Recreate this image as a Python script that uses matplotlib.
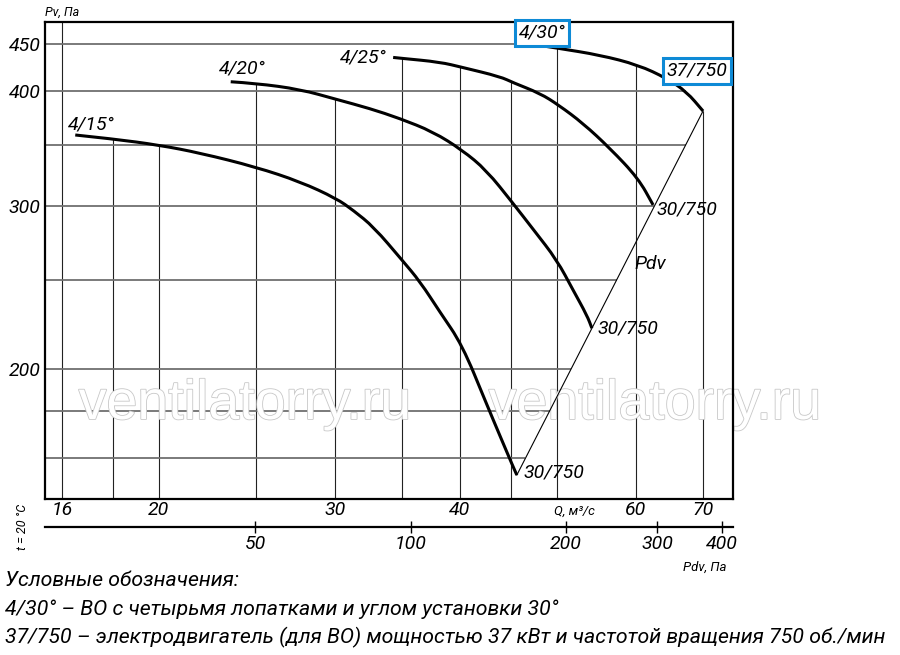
import numpy as np
import matplotlib
matplotlib.use("Agg")
import matplotlib.pyplot as plt
import matplotlib.patheffects as pe
from matplotlib import font_manager
from matplotlib.path import Path
from matplotlib.patches import PathPatch
from matplotlib.ticker import NullLocator

# fan curves: Q, m3/s -> Pv, Pa
q_15 = [16.5, 18.0, 20.0, 22.0, 25.0, 27.7, 30.1, 31.3, 32.8, 35.0, 36.5, 38.2, 40.2, 42.5, 43.9, 45.2, 45.6]
p_15 = [358.5, 355, 349.6, 342.7, 331, 319, 306, 297, 285, 262.5, 248.6, 230.5, 212.5, 183.6, 168.9, 156.8, 153.5]
q_20 = [23.6, 25.0, 27.7, 30.1, 32.5, 34.8, 37.6, 40.2, 42.5, 45.2, 47.4, 50.0, 51.9, 53.6, 54.2]
p_20 = [409.4, 407.8, 401.7, 391.8, 383, 373.7, 361.4, 345.3, 328.5, 302.3, 282.9, 262.5, 243.5, 228.5, 221.4]
q_25 = [34.3, 35.0, 38.2, 40.2, 43.9, 45.2, 48.1, 50.2, 53.1, 56.5, 60.3, 62.4]
p_25 = [435, 434, 430, 424.4, 414.6, 408.5, 397.7, 386.3, 369.1, 346.8, 321.8, 301.1]
q_30 = [47.0, 50.2, 55.2, 60.3, 64.4, 67.4, 70.0]
p_30 = [450, 445, 437.6, 426.9, 412.9, 399.3, 380.6]

curve_names = ['4/15°', '4/20°', '4/25°', '4/30°']
end_labels = ['30/750', '30/750', '30/750', '37/750']

q_grid = [16, 18, 20, 25, 30, 35, 40, 45, 50, 60, 70]
p_grid = [160, 180, 200, 250, 300, 350, 400, 450]
q_ticks = [16, 20, 30, 40, 60, 70]
p_ticks = [200, 300, 400, 450]
pdv_ticks = [50, 100, 200, 300, 400]

legend_lines = [
    'Условные обозначения:',
    '4/30° – ВО с четырьмя лопатками и углом установки 30°',
    '37/750 – электродвигатель (для ВО) мощностью 37 кВт и частотой вращения 750 об./мин',
]

styles = {}
for f in font_manager.fontManager.ttflist:
    styles.setdefault(f.name, set()).add(f.style)
main_font = next((n for n in ['Roboto', 'Liberation Sans'] if 'italic' in styles.get(n, ())), 'DejaVu Sans')

plt.rcParams['font.family'] = [main_font, 'DejaVu Sans']
plt.rcParams['font.style'] = 'italic'

W, H = 900, 655


def px(x, y):
    return x / W, 1 - y / H


def smooth_path(qs, ps):
    # quadratic pieces through the read points (drawn in log space)
    lq, lp = np.log(qs), np.log(ps)
    verts = [(qs[0], ps[0])]
    codes = [Path.MOVETO]
    for i in range(1, len(qs) - 1):
        mid = (np.exp((lq[i] + lq[i + 1]) / 2), np.exp((lp[i] + lp[i + 1]) / 2))
        verts += [(qs[i], ps[i]), mid]
        codes += [Path.CURVE3, Path.CURVE3]
    verts.append((qs[-1], ps[-1]))
    codes.append(Path.LINETO)
    return Path(verts, codes)


curves = [(q_15, p_15), (q_20, p_20), (q_25, p_25), (q_30, p_30)]
xlim = (15.39, 75.0)
ylim = (144.6, 475.2)

fig = plt.figure(figsize=(9, 6.55), dpi=100)
ax = fig.add_axes([45 / W, 156 / H, 688 / W, 477 / H])
ax.set_xscale('log')
ax.set_yscale('log')
ax.set_xlim(*xlim)
ax.set_ylim(*ylim)

# Pdv line through the curve ends
q_line = [q_15[-1], q_30[-1]]
p_line = [p_15[-1], p_30[-1]]
ax.plot(q_line, p_line, color='black', lw=0.8, zorder=3)


def top_at(q):
    tops = []
    for qs, ps in curves:
        if qs[0] * 0.99 <= q <= qs[-1] * 1.01:
            tops.append(np.exp(np.interp(np.log(q), np.log(qs), np.log(ps))))
    return max(tops) if tops else ylim[1]


def right_at(p):
    if p <= p_line[-1]:
        return np.exp(np.interp(np.log(p), np.log(p_line), np.log(q_line)))
    return np.exp(np.interp(np.log(p), np.log(p_30[::-1]), np.log(q_30[::-1])))


for q in q_grid:
    ax.vlines(q, ylim[0], top_at(q), color='#222222', lw=0.8, zorder=1)
for p in p_grid:
    ax.hlines(p, xlim[0], right_at(p), color='#707070', lw=1.3, zorder=1)

for (qs, ps) in curves:
    ax.add_patch(PathPatch(smooth_path(qs, ps), fill=False, ec='black', lw=2.2,
                           capstyle='butt', joinstyle='round', zorder=4))

box = dict(boxstyle='square,pad=0.2', fc='white', ec='#0e8ad6', lw=2.2)
name_offsets = [(16, 10), (12, 13), (-30, 0), (12, 11)]
for (qs, ps), name, off in zip(curves, curve_names, name_offsets):
    ax.annotate(name, xy=(qs[0], ps[0]), xytext=off, textcoords='offset pixels',
                ha='center', va='center', fontsize=14, zorder=6,
                bbox=box if name == '4/30°' else None)

end_offsets = [(7, 3), (6, 0), (3, -5), (-6, 40)]
for (qs, ps), lab, off in zip(curves, end_labels, end_offsets):
    if lab == '37/750':
        ax.annotate(lab, xy=(qs[-1], ps[-1]), xytext=off, textcoords='offset pixels',
                    ha='center', va='center', fontsize=14, zorder=6, bbox=box)
    else:
        ax.annotate(lab, xy=(qs[-1], ps[-1]), xytext=off, textcoords='offset pixels',
                    ha='left', va='center', fontsize=14, zorder=6)

ax.text(62, 260, 'Pdv', fontsize=14, ha='center', va='center', zorder=6)

# watermark
for wx in (245, 655):
    t = ax.text(*px(wx, 405), 'ventilatorry.ru', transform=fig.transFigure,
                fontsize=40, family='Liberation Sans', style='normal',
                ha='center', va='center', color='white', zorder=2)
    t.set_path_effects([pe.Stroke(linewidth=1.2, foreground='#c8c8c8'), pe.Normal()])

ax.set_xticks(q_ticks)
ax.set_xticklabels([str(v) for v in q_ticks])
ax.set_yticks(p_ticks)
ax.set_yticklabels([str(v) for v in p_ticks])
ax.xaxis.set_minor_locator(NullLocator())
ax.yaxis.set_minor_locator(NullLocator())
ax.tick_params(axis='x', length=0, pad=1.5, labelsize=14)
ax.tick_params(axis='y', length=0, pad=3, labelsize=14)
for s in ax.spines.values():
    s.set_linewidth(1.6)

# second scale: Pdv
ax2 = fig.add_axes([45 / W, 128 / H, 688 / W, 0.0001])
ax2.set_xscale('log')
ax2.set_xlim(19.6, 421)
ax2.set_xticks(pdv_ticks)
ax2.set_xticklabels([str(v) for v in pdv_ticks])
ax2.xaxis.set_minor_locator(NullLocator())
ax2.set_yticks([])
ax2.patch.set_visible(False)
for side in ('left', 'right', 'top'):
    ax2.spines[side].set_visible(False)
ax2.spines['bottom'].set_linewidth(1.6)
ax2.tick_params(axis='x', direction='inout', length=8, width=1, pad=1.5, labelsize=14)

fig.text(*px(45, 12), 'Pv, Па', fontsize=9, ha='left', va='center')
fig.text(*px(574, 511), 'Q, м³/с', fontsize=9.5, ha='center', va='center')
fig.text(*px(705, 567), 'Pdv, Па', fontsize=9.5, ha='center', va='center')
fig.text(*px(23, 527), 't = 20 °C', fontsize=9, ha='center', va='center', rotation=90)

# legend lines; the last one runs to about x = 888
leg = []
for i, line in enumerate(legend_lines):
    leg.append(fig.text(*px(5, 581 + 28 * i), line, fontsize=14, ha='left', va='center'))
renderer = fig.canvas.get_renderer()
w = leg[-1].get_window_extent(renderer).width
size = float(np.clip(14 * 883 / w, 11, 16))
for t in leg:
    t.set_fontsize(size)

fig.savefig('out.png', dpi=100)
